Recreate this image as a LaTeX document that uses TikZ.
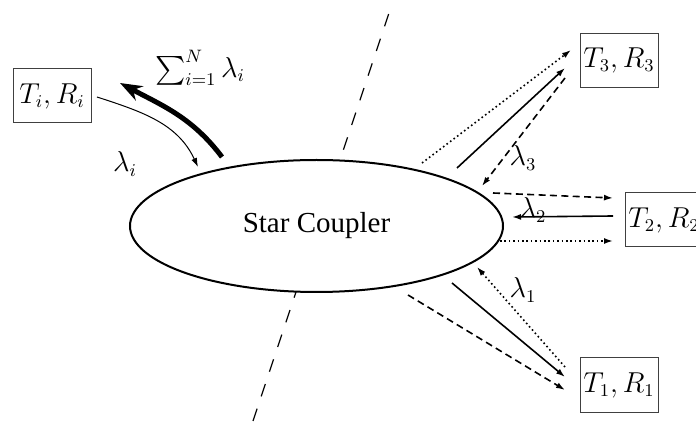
\documentclass[tikz,border=0pt]{standalone}
\usepackage{amsmath}
\usepackage[no-math]{fontspec}
\setmainfont{Liberation Serif}
\usetikzlibrary{arrows.meta, shapes.geometric}

\begin{document}
\begin{tikzpicture}[
    x=0.5pt, y=0.5pt,
    box/.style={draw=black!75, line width=0.5pt, minimum width=39pt, minimum height=27pt, inner sep=0pt, font=\fontsize{13.5}{16}\selectfont},
    couplerbox/.style={ellipse, draw, fill=white, line width=1pt, minimum width=186.5pt, minimum height=66pt, inner sep=0pt, font=\fontsize{14.5}{17}\selectfont},
    lbl/.style={inner sep=0pt, font=\fontsize{13.5}{16}\selectfont},
    sig/.style={-{Latex[length=4.5pt, width=3pt]}, line width=0.8pt},
    sigdash/.style={sig, dash pattern=on 3.5pt off 2.2pt},
    sigdot/.style={sig, dash pattern=on 0.8pt off 1.4pt},
    border/.style={line width=0.6pt, dash pattern=on 6.5pt off 6.5pt}
]
    \useasboundingbox (0,0) rectangle (696,423);

    % Dividing line, hidden behind the coupler.
    \coordinate (sepTop) at (391,416);
    \coordinate (sepBot) at (253,2);
    \draw[border] (sepBot) -- (sepTop);

    \node[couplerbox] (coupler) at (316.5,197) {Star Coupler};

    \node[box] (tri) at (52,327)  {$T_i, R_i$};
    \node[box] (tr3) at (619,362.5) {$T_3, R_3$};
    \node[box] (tr2) at (664,203) {$T_2, R_2$};
    \node[box] (tr1) at (619,38)  {$T_1, R_1$};

    % Local station: own wavelength in, all wavelengths out.
    \coordinate (inStart) at (97,326);
    \coordinate (inEnd)   at (198,256);
    \coordinate (outStart) at (222,266);
    \coordinate (outEnd)   at (120,340);
    \draw[-{Latex[length=4.5pt, width=3pt]}, line width=0.5pt] (inStart) to[out=-18, in=115] (inEnd);
    \draw[-{Stealth[length=11pt, width=8pt]}, line width=2.5pt] (outStart) to[out=127, in=-28] (outEnd);
    \node[lbl] (sumlbl) at (200,355) {$\sum_{i=1}^{N} \lambda_i$};
    \node[lbl] (lamI)   at (125,259) {$\lambda_i$};

    % Station 3.
    \coordinate (a3) at (422,260);  \coordinate (b3) at (571,373);
    \coordinate (c3) at (457,255);  \coordinate (d3) at (565,355);
    \coordinate (e3) at (565,345);  \coordinate (f3) at (482,237);
    \draw[sigdot]  (a3) -- (b3);
    \draw[sig]     (c3) -- (d3);
    \draw[sigdash] (e3) -- (f3);
    \node[lbl] (lam3) at (523,265) {$\lambda_3$};

    % Station 2.
    \coordinate (a2) at (493,230);  \coordinate (b2) at (613,225);
    \coordinate (c2) at (613,207);  \coordinate (d2) at (512,206);
    \coordinate (e2) at (500,182);  \coordinate (f2) at (613,182);
    \draw[sigdash] (a2) -- (b2);
    \draw[sig]     (c2) -- (d2);
    \draw[sigdot]  (e2) -- (f2);
    \node[lbl] (lam2) at (533,213) {$\lambda_2$};

    % Station 1.
    \coordinate (a1) at (408,128);  \coordinate (b1) at (565,33);
    \coordinate (c1) at (452,140);  \coordinate (d1) at (565,46);
    \coordinate (e1) at (565,56);   \coordinate (f1) at (477,156);
    \draw[sigdash] (a1) -- (b1);
    \draw[sig]     (c1) -- (d1);
    \draw[sigdot]  (e1) -- (f1);
    \node[lbl] (lam1) at (523,133) {$\lambda_1$};

\end{tikzpicture}
\end{document}
